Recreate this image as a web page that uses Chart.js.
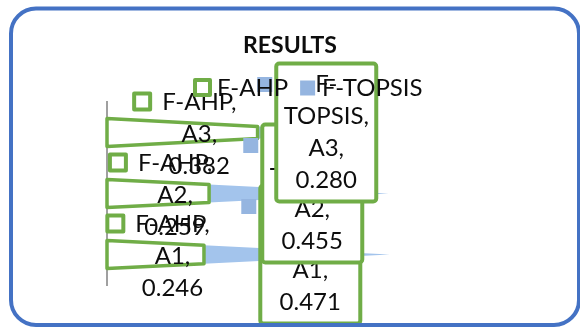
<!DOCTYPE html>
<html>
<head>
<meta charset="utf-8">
<script src="https://cdn.jsdelivr.net/npm/chart.js@4/dist/chart.umd.min.js"></script>
<style>
  html, body { margin: 0; padding: 0; background: #ffffff; }
  #wrap { width: 580px; height: 327px; position: relative; }
</style>
</head>
<body>
<div id="wrap"><canvas id="chart" width="580" height="327"></canvas></div>
<script>
// Results of the two ranking methods per alternative
const categories = ['A1', 'A2', 'A3'];
const seriesNames = ['F-AHP', 'F-TOPSIS'];
const ahpValues = [0.246, 0.259, 0.382];
const topsisValues = [0.471, 0.455, 0.280];
const chartTitle = 'RESULTS';

const GREEN = '#70ad47';
const BLUE = '#a3c4ec';
const BLUE_KEY = '#95b5e0';
const TEXT = '#0d0d0d';
const FONT_FAMILY = 'Lato, "Open Sans", sans-serif';
const LABEL_FONT = '24px ' + FONT_FAMILY;
const LINE = 32;

const fmt = v => v.toFixed(3);

// Bars are drawn as cones: each stack tapers to a point at its total
const coneBars = {
  id: 'coneBars',
  beforeDatasetDraw(chart, args) {
    const { ctx } = chart;
    const ds = chart.data.datasets[args.index];
    const xs = chart.scales.x;
    const zero = xs.getPixelForValue(0);
    ctx.save();
    args.meta.data.forEach((el, j) => {
      const total = chart.data.datasets.reduce((s, d) => s + d.data[j], 0);
      const tip = xs.getPixelForValue(total);
      const half = el.height / 2;
      const hAt = px => half * (tip - px) / (tip - zero);
      const x0 = el.base, x1 = el.x, y = el.y;
      ctx.beginPath();
      ctx.moveTo(x0, y - hAt(x0));
      ctx.lineTo(x1, y - hAt(x1));
      ctx.lineTo(x1, y + hAt(x1));
      ctx.lineTo(x0, y + hAt(x0));
      ctx.closePath();
      ctx.fillStyle = ds.backgroundColor;
      ctx.fill();
      if (ds.borderWidth) {
        ctx.lineWidth = ds.borderWidth;
        ctx.strokeStyle = ds.borderColor;
        ctx.lineJoin = 'round';
        ctx.stroke();
      }
    });
    ctx.restore();
    return false;
  }
};

// Split a label after its hyphen when it is wider than the box allows
function wrapText(ctx, text, maxW) {
  if (ctx.measureText(text).width <= maxW) return [text];
  const i = text.indexOf('-');
  if (i < 0) return [text];
  return [text.slice(0, i + 1), text.slice(i + 1)];
}

// Data callouts: "series, category, value"
const callouts = {
  id: 'callouts',
  afterDatasetsDraw(chart) {
    const { ctx } = chart;
    ctx.save();
    ctx.font = LABEL_FONT;
    ctx.textBaseline = 'middle';
    ctx.textAlign = 'center';

    // F-AHP: plain text with a hollow key
    const m0 = chart.getDatasetMeta(0);
    m0.data.forEach((el, j) => {
      const lines = [seriesNames[0] + ',', categories[j] + ',', fmt(ahpValues[j])];
      const colW = Math.max(...lines.map(l => ctx.measureText(l).width));
      const cx = (el.base + el.x) / 2 + 2;
      const blockW = 20 + 10 + colW;
      const left = cx - blockW / 2;
      const tx = left + 30 + colW / 2;
      const y0 = el.y + 2 - LINE;
      ctx.strokeStyle = GREEN;
      ctx.lineWidth = 4;
      ctx.lineJoin = 'round';
      ctx.strokeRect(left + 2, y0 - 9, 16, 16);
      ctx.fillStyle = TEXT;
      lines.forEach((l, k) => ctx.fillText(l, tx, y0 + k * LINE));
    });

    // F-TOPSIS: boxed text with a filled key
    const m1 = chart.getDatasetMeta(1);
    const BOX_W = 100;
    m1.data.forEach((el, j) => {
      const lines = [...wrapText(ctx, seriesNames[1] + ',', BOX_W - 16),
                     categories[j] + ',', fmt(topsisValues[j])];
      const cx = (el.base + el.x) / 2 + 5;
      const left = cx - 60.5;
      const boxL = left + 19;
      const boxH = lines.length * LINE + 10;
      const boxT = el.y - boxH / 2;
      ctx.beginPath();
      ctx.roundRect(boxL, boxT, BOX_W, boxH, 3);
      ctx.fillStyle = '#ffffff';
      ctx.fill();
      ctx.strokeStyle = GREEN;
      ctx.lineWidth = 4;
      ctx.stroke();
      const y0 = el.y - (lines.length - 1) * LINE / 2;
      ctx.fillStyle = TEXT;
      lines.forEach((l, k) => ctx.fillText(l, boxL + BOX_W / 2, y0 + k * LINE));
      ctx.fillStyle = BLUE_KEY;
      ctx.fillRect(left, y0 - 7.5, 15, 15);
    });
    ctx.restore();
  }
};

// Frame and legend
const frameAndLegend = {
  id: 'frameAndLegend',
  beforeDraw(chart) {
    const { ctx } = chart;
    ctx.save();
    ctx.fillStyle = '#ffffff';
    ctx.fillRect(0, 0, chart.width, chart.height);
    ctx.restore();
  },
  afterDraw(chart) {
    const { ctx } = chart;
    ctx.save();
    // legend
    ctx.font = LABEL_FONT;
    ctx.textBaseline = 'middle';
    ctx.textAlign = 'left';
    const ly = 88;
    let x = 193;
    chart.data.datasets.forEach((d, i) => {
      if (i === 0) {
        ctx.strokeStyle = GREEN;
        ctx.lineWidth = 4;
        ctx.lineJoin = 'round';
        ctx.strokeRect(x + 2, ly - 8, 15, 15);
      } else {
        ctx.fillStyle = BLUE_KEY;
        ctx.fillRect(x + 2, ly - 7.5, 15, 15);
      }
      ctx.fillStyle = TEXT;
      ctx.fillText(d.label, x + 24, ly);
      x += 24 + ctx.measureText(d.label).width + 10;
    });
    // rounded frame
    ctx.beginPath();
    ctx.roundRect(11, 8.5, 568, 316.5, 25);
    ctx.strokeStyle = '#4472c4';
    ctx.lineWidth = 4;
    ctx.stroke();
    ctx.restore();
  }
};

new Chart(document.getElementById('chart'), {
  type: 'bar',
  data: {
    labels: categories,
    datasets: [
      { label: seriesNames[0], data: ahpValues, backgroundColor: '#ffffff', borderColor: GREEN, borderWidth: 3.5 },
      { label: seriesNames[1], data: topsisValues, backgroundColor: BLUE, borderWidth: 0 }
    ]
  },
  options: {
    indexAxis: 'y',
    responsive: false,
    animation: false,
    barThickness: 28,
    layout: { padding: { left: 0, right: 0, top: 0, bottom: 42 } },
    scales: {
      x: { stacked: true, min: 0, max: 1.2, display: false },
      y: {
        stacked: true,
        reverse: true,
        ticks: { display: false },
        grid: { display: false, drawTicks: false },
        border: { display: true, color: '#a0a0a0', width: 2 },
        afterFit(scale) { scale.width = 107; }
      }
    },
    plugins: {
      legend: { display: false },
      tooltip: { enabled: false },
      title: {
        display: true,
        text: chartTitle,
        color: TEXT,
        font: { family: FONT_FAMILY, size: 23, weight: 'bold', lineHeight: 1.2 },
        padding: { top: 32, bottom: 42.4 }
      }
    }
  },
  plugins: [frameAndLegend, coneBars, callouts]
});
</script>
</body>
</html>
